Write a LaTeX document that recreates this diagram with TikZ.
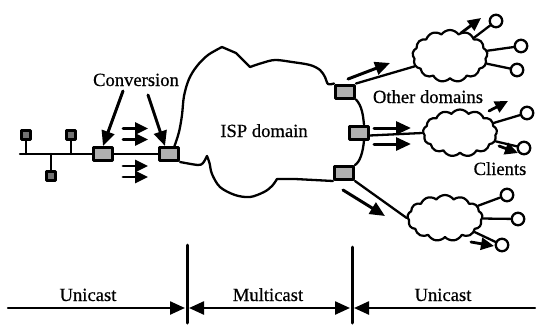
\documentclass[tikz,border=0pt]{standalone}
\usepackage{fontspec}
\setmainfont{Liberation Serif}
\newfontfamily\lblfont{Liberation Serif}[FakeBold=0.6]
\usetikzlibrary{arrows.meta,shapes.symbols,calc}
\definecolor{boxgray}{gray}{0.69}
\definecolor{hostgray}{gray}{0.45}
\begin{document}
\begin{tikzpicture}[x=1pt,y=-1pt,line cap=round,line join=round,
  lbl/.style={font=\lblfont\fontsize{18.6}{20}\selectfont,inner sep=0pt,anchor=base},
  cbox/.style={draw,line width=3pt,fill=boxgray,minimum width=19pt,minimum height=13pt,inner sep=0pt},
  host/.style={draw,line width=2.4pt,fill=hostgray,minimum size=9pt,inner sep=0pt},
  wire/.style={line width=2.4pt},
  edge/.style={line width=2.3pt},
  smallcloud/.style={cloud,draw,line width=2.2pt,cloud puffs=13,cloud puff arc=110,cloud ignores aspect,inner sep=0pt,fill=white},
  client/.style={circle,draw,line width=2.3pt,fill=white,minimum size=12.5pt,inner sep=0pt},
  flow/.style={line width=3pt,-{Triangle[length=15pt,width=13pt]}},
  sflow/.style={line width=2.8pt,-{Triangle[length=13pt,width=12pt]}},
  bar/.style={line width=3pt}]
\useasboundingbox (0,0) rectangle (542,325);

% left network
\node[host] (h1) at (26,135) {};
\node[host] (h2) at (71,135) {};
\node[host] (h3) at (51,176) {};
\node[cbox] (b1) at (103,154) {};
\node[cbox] (b2) at (169,154) {};
\coordinate (busL) at (20,154);
\draw[wire] (busL) -- (b1.west);
\draw[wire] (h1.south) -- (h1.south |- busL);
\draw[wire] (h2.south) -- (h2.south |- busL);
\draw[wire] (h3.north) -- (h3.north |- busL);
\draw[wire] (b1.east) -- (b2.west);

% conversion label and arrows
\node[lbl] (conv) at (136,86) {Conversion};
\coordinate (cv1) at (123,91);
\coordinate (cv2) at (148,95);
\draw[flow] (cv1) -- (b1.north);
\draw[flow] (cv2) -- ($(b2.north)+(-4,0)$);

% double arrows
\foreach \yy in {128.5,139.5,166,177}{
  \draw[sflow] (123,\yy) -- (148,\yy);
}

% right boxes
\node[cbox] (r1) at (345,91.5) {};
\node[cbox] (r2) at (358.5,132.5) {};
\node[cbox] (r3) at (344,173) {};

% ISP cloud outline
\coordinate (t0) at ($(b2.north)!0.5!(b2.north east)$);
\coordinate (t9) at (r1.north west);
\coordinate (u0) at (b2.south east);
\coordinate (u9) at (r3.south west);
\draw[edge] plot[smooth,tension=0.55] coordinates {(t0) (179,132) (182,115) (184,96) (189,79) (197,66) (208,55) (222,47)};
\draw[edge] (222,47) -- (236,53) -- (250,67);
\draw[edge] plot[smooth,tension=0.55] coordinates {(250,67) (262,63) (275,60) (292,62) (310,65) (320,70) (325,77) (328,84) (t9)};
\draw[edge] plot[smooth,tension=0.5] coordinates {(u0) (198,165) (203,163) (207,156)};
\draw[edge] plot[smooth,tension=0.55] coordinates {(207,156) (209.5,163) (212,174) (220,187) (235,195) (250,197) (264,192) (272,186) (277,179)};
\draw[edge] (277,179) -- (295,179) -- (u9);
\draw[edge] (r1.south east) .. controls (362,106) and (363,115) .. ($(r2.north)!0.5!(r2.north east)$);
\draw[edge] ($(r2.south)!0.5!(r2.south east)$) .. controls (363,152) and (360,162) .. (r3.north east);
\node[lbl] (isp) at (264,137) {ISP domain};

% small clouds
\node[smallcloud,minimum width=75pt,minimum height=52pt] (cA) at (450,56) {};
\node[smallcloud,minimum width=74pt,minimum height=47pt] (cB) at (460,133) {};
\node[smallcloud,minimum width=75pt,minimum height=46pt] (cC) at (445,218) {};

\draw[edge] (r1.north east) -- (cA);
\draw[edge] ($(r2.east)+(0,3)$) -- (cB.west);
\draw[edge] (r3.south east) -- (cC.west);

\coordinate (a1s) at (348,79); \coordinate (a1e) at (390,63);
\draw[flow] (a1s) -- (a1e);
\coordinate (a2s) at (374,128); \coordinate (a2e) at (411,128);
\coordinate (a3s) at (374,144); \coordinate (a3e) at (411,144);
\draw[flow] (a2s) -- (a2e);
\draw[flow] (a3s) -- (a3e);
\coordinate (a4s) at (343,190); \coordinate (a4e) at (385,216);
\draw[flow] (a4s) -- (a4e);

% clients
\node[client] (k1) at (496,21) {};
\node[client] (k2) at (521,46) {};
\node[client] (k3) at (517,70) {};
\node[client] (k4) at (527,113) {};
\node[client] (k5) at (524,148) {};
\node[client] (k6) at (507,195) {};
\node[client] (k7) at (518,219) {};
\node[client] (k8) at (502,245) {};
\draw[edge] (cA) -- (k1);
\draw[edge] (cA) -- (k2);
\draw[edge] (cA) -- (k3);
\draw[edge] (cB) -- (k4);
\draw[edge] (cB) -- (k5);
\draw[edge] (cC) -- (k6);
\draw[edge] (cC) -- (k7);
\draw[edge] (cC) -- (k8);

\draw[sflow] (461,33) -- (481,18);
\draw[sflow] (489,111) -- (508,101);
\draw[sflow] (499,146) -- (518,153);
\draw[sflow] (471,242) -- (494,246);

\node[lbl] (oth) at (428,103) {Other domains};
\node[lbl] (cli) at (500,175) {Clients};

% timeline
\coordinate (bar1t) at (187,245); \coordinate (bar1b) at (187,323);
\coordinate (bar2t) at (352,247); \coordinate (bar2b) at (352,323);
\draw[bar] (bar1t) -- (bar1b);
\draw[bar] (bar2t) -- (bar2b);
\coordinate (tl) at (8,308); \coordinate (tr) at (535,308);
\draw[flow,line width=2.4pt] (tl) -- ($(bar1t|-tl)+(-2,0)$);
\draw[line width=2.4pt,{Triangle[length=15pt,width=13pt]}-{Triangle[length=15pt,width=13pt]}] ($(bar1t|-tl)+(2,0)$) -- ($(bar2t|-tl)+(-2,0)$);
\draw[flow,line width=2.4pt] (tr) -- ($(bar2t|-tl)+(2,0)$);
\node[lbl] (u1) at (88,301) {Unicast};
\node[lbl] (m1) at (268,301) {Multicast};
\node[lbl] (u2) at (443,301) {Unicast};
\end{tikzpicture}
\end{document}
